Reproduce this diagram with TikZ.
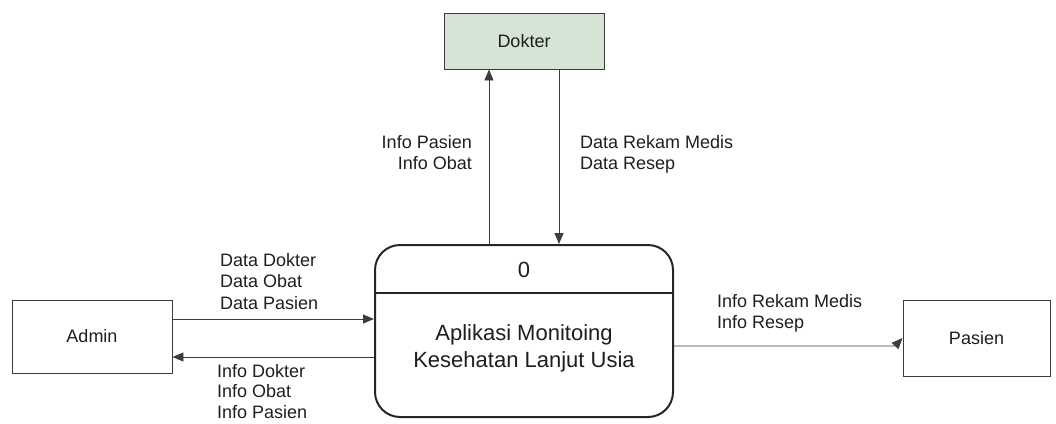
\documentclass[tikz,border=0pt]{standalone}
\usepackage{fontspec}
\setmainfont{Liberation Sans}
\usetikzlibrary{arrows.meta}
\definecolor{linegray}{RGB}{60,60,60}
\definecolor{textgray}{RGB}{30,30,30}
\definecolor{dokfill}{RGB}{214,228,214}
\tikzset{
  entity/.style={draw=linegray, line width=0.9pt, minimum width=160pt, minimum height=56pt, inner sep=0pt, text=textgray, font=\fontsize{18}{21}\selectfont},
  proc/.style={draw=black!85, line width=2pt, rounded corners=25pt, minimum width=298pt, minimum height=172pt, inner sep=0pt},
  flow/.style={draw=linegray, line width=0.9pt, -{Triangle[length=11pt,width=9pt]}},
  lbl/.style={inner sep=0pt, text=textgray, font=\fontsize{18}{21.5}\selectfont},
  lbltight/.style={inner sep=0pt, text=textgray, font=\fontsize{18}{20.5}\selectfont},
  ptext/.style={inner sep=0pt, text=textgray, font=\fontsize{22}{27}\selectfont}
}
\begin{document}
\begin{tikzpicture}[x=1pt,y=-1pt]
\useasboundingbox (0,0) rectangle (1056,423);
% entities
\node[entity, fill=dokfill] (dok) at (524,41) {Dokter};
\node[entity, minimum height=73pt] (adm) at (92,336.5) {Admin};
\node[entity, minimum width=147pt, minimum height=76pt] (pas) at (976.5,338) {Pasien};
% process
\node[proc] (proc) at (524,331) {};
\coordinate (dl) at (375,293);
\coordinate (dr) at (673,293);
\draw[black!85, line width=2pt] (dl) -- (dr);
\node[ptext, anchor=base] (pnum) at (524,277) {0};
\node[ptext, align=center, anchor=center] (pname) at (524,348) {Aplikasi Monitoing\\Kesehatan Lanjut Usia};
% connector helper coordinates
\coordinate (xu) at (489,0);
\coordinate (xd) at (559,0);
\coordinate (ya) at (0,319);
\coordinate (yb) at (0,357);
\coordinate (yp) at (0,346);
\coordinate (bend) at (895,346);
\coordinate (yq) at (0,338);
% connectors
\draw[flow] (proc.north -| xu) -- (dok.south -| xu);
\draw[flow] (dok.south -| xd) -- (proc.north -| xd);
\draw[flow] (adm.east |- ya) -- (proc.west |- ya);
\draw[flow] (proc.west |- yb) -- (adm.east |- yb);
\draw[flow] (proc.east |- yp) -- (bend) -- (pas.west |- yq);
% labels
\node[lbl, align=right, anchor=north east] (l1) at (472,135) {Info Pasien\\Info Obat};
\node[lbl, align=left, anchor=north west] (l2) at (580,135) {Data Rekam Medis\\Data Resep};
\node[lbl, align=left, anchor=north west] (l3) at (220,253) {Data Dokter\\Data Obat\\Data Pasien};
\node[lbltight, align=left, anchor=north west] (l4) at (217,364) {Info Dokter\\Info Obat\\Info Pasien};
\node[lbl, align=left, anchor=north west] (l5) at (717,294) {Info Rekam Medis\\Info Resep};
\end{tikzpicture}
\end{document}
